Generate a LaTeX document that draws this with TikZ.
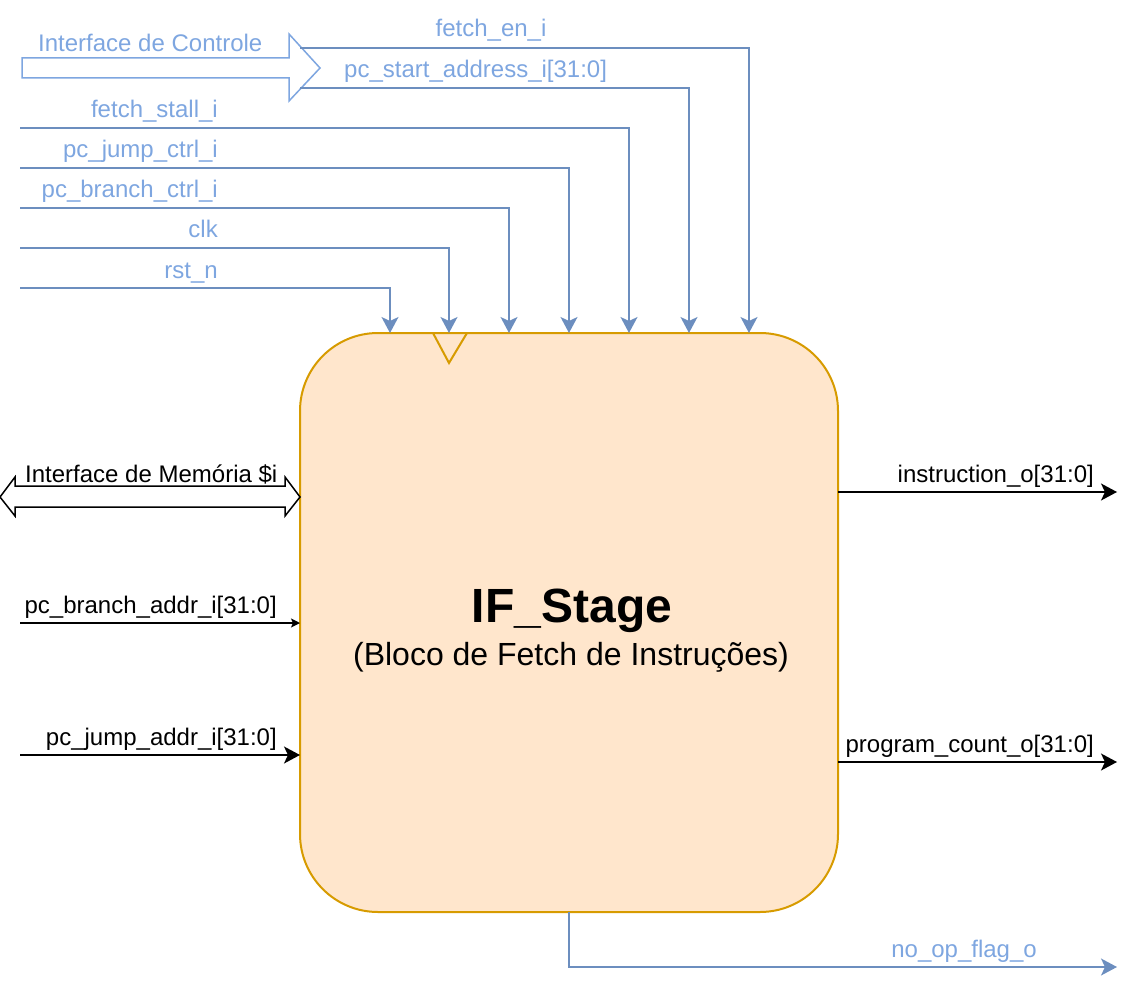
\documentclass[tikz,border=0pt]{standalone}
\usepackage{fontspec}
\setmainfont{Liberation Sans}
\usetikzlibrary{arrows.meta}
\definecolor{lineblue}{HTML}{6C8EBF}
\definecolor{textblue}{HTML}{7EA6E0}
\definecolor{boxfill}{HTML}{FFE6CC}
\definecolor{boxline}{HTML}{D79B00}
\begin{document}
\begin{tikzpicture}[x=1pt,y=-1pt,
  lbl/.style={font=\fontsize{24}{28}\selectfont, inner sep=0pt},
  blbl/.style={lbl,text=textblue},
  sig/.style={draw=lineblue,line width=1.5pt,-{Stealth[length=16pt,width=17pt,inset=4pt]}},
  bsig/.style={draw=black,line width=1.5pt,-{Stealth[length=16pt,width=17pt,inset=4pt]}},
  ssig/.style={draw=black,line width=1.5pt,-{Stealth[length=9pt,width=9pt,inset=2pt]}},
]
\useasboundingbox (0,0) rectangle (1137,984);

% main block
\node[draw=boxline, fill=boxfill, line width=2pt, rounded corners=78pt,
      minimum width=538pt, minimum height=579pt, inner sep=0pt] (ifs) at (569,622.5) {};
\draw[boxline, line width=2pt] (433,333) -- (449,363) -- (467,333);
\node[font=\bfseries\fontsize{48}{56}\selectfont, anchor=base, inner sep=0pt] (title) at (572,622) {IF\_Stage};
\node[font=\fontsize{32}{38}\selectfont, anchor=base, inner sep=0pt] (sub) at (571,665) {(Bloco de Fetch de Instruções)};

% control interface arrow
\draw[textblue, line width=1.5pt, fill=white] (22,58) -- (289,58) -- (289,34) -- (320,68) -- (289,101) -- (289,78) -- (22,78) -- cycle;
\node[blbl, anchor=base west] (ctrlL) at (38,52) {Interface de Controle};

% top signals
\coordinate (enA) at (300,48);  \coordinate (enB) at (749,333);
\coordinate (psA) at (300,88);  \coordinate (psB) at (689,333);
\coordinate (fsA) at (20,128);  \coordinate (fsB) at (629,333);
\coordinate (jcA) at (20,168);  \coordinate (jcB) at (569,333);
\coordinate (bcA) at (20,208);  \coordinate (bcB) at (509,333);
\coordinate (ckA) at (20,248);  \coordinate (ckB) at (449,333);
\coordinate (rsA) at (20,288);  \coordinate (rsB) at (390,333);
\draw[sig] (enA) -| (enB);
\draw[sig] (psA) -| (psB);
\draw[sig] (fsA) -| (fsB);
\draw[sig] (jcA) -| (jcB);
\draw[sig] (bcA) -| (bcB);
\draw[sig] (ckA) -| (ckB);
\draw[sig] (rsA) -| (rsB);
\node[blbl, anchor=base] (enL) at (491,37) {fetch\_en\_i};
\node[blbl, anchor=base west] (psL) at (344,78) {pc\_start\_address\_i[31:0]};
\node[blbl, anchor=base east] (fsL) at (218,118) {fetch\_stall\_i};
\node[blbl, anchor=base east] (jcL) at (218,158) {pc\_jump\_ctrl\_i};
\node[blbl, anchor=base east] (bcL) at (218,198) {pc\_branch\_ctrl\_i};
\node[blbl, anchor=base east] (ckL) at (218,238) {clk};
\node[blbl, anchor=base east] (rsL) at (218,278) {rst\_n};

% memory interface
\draw[black, line width=1.5pt, fill=white] (0,497) -- (15,477) -- (15,486) -- (285,486) -- (285,477) -- (300,497) -- (285,516) -- (285,507) -- (15,507) -- (15,516) -- cycle;
\node[lbl, anchor=base west] (memL) at (25,482) {Interface de Memória \$i};

% left inputs
\coordinate (baA) at (20,623); \coordinate (baB) at (300,623);
\coordinate (jaA) at (20,755); \coordinate (jaB) at (300,755);
\draw[ssig] (baA) -- (baB);
\draw[bsig] (jaA) -- (jaB);
\node[lbl, anchor=base east] (baL) at (277,613) {pc\_branch\_addr\_i[31:0]};
\node[lbl, anchor=base east] (jaL) at (277,745) {pc\_jump\_addr\_i[31:0]};

% outputs
\coordinate (inA) at (838,492); \coordinate (inB) at (1117,492);
\coordinate (pcA) at (838,762); \coordinate (pcB) at (1117,762);
\coordinate (noA) at (569,912); \coordinate (noB) at (1117,967);
\draw[bsig] (inA) -- (inB);
\draw[bsig] (pcA) -- (pcB);
\draw[sig] (noA) |- (noB);
\node[lbl, anchor=base east] (inL) at (1094,482) {instruction\_o[31:0]};
\node[lbl, anchor=base east] (pcL) at (1094,752) {program\_count\_o[31:0]};
\node[blbl, anchor=base east] (noL) at (1037,957) {no\_op\_flag\_o};
\end{tikzpicture}
\end{document}
